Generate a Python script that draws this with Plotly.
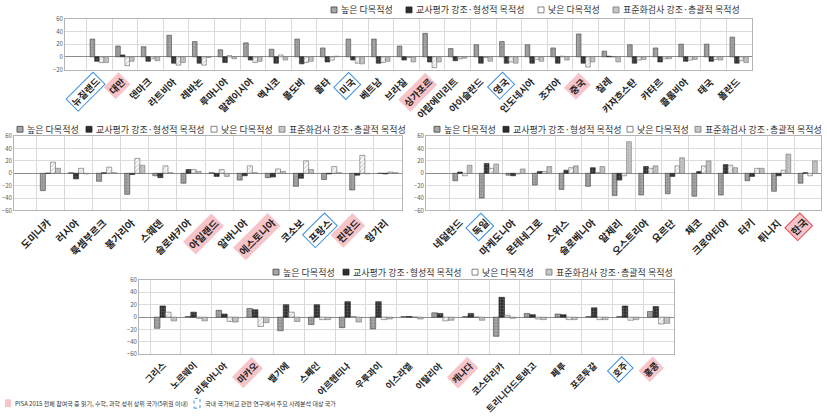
import plotly.graph_objects as go

W, H = 827, 418

SERIES = ['높은 다목적성', '교사평가 강조·형성적 목적성', '낮은 다목적성', '표준화검사 강조·총괄적 목적성']

# ---- Panel 1 (top) ----
top_countries = ['뉴질랜드', '대만', '덴마크', '라트비아', '레바논', '루마니아', '말레이시아', '멕시코', '몰도바', '몰타',
                 '미국', '베트남', '브라질', '싱가포르', '아랍에미리트', '아이슬란드', '영국', '인도네시아', '조지아', '중국',
                 '칠레', '카자흐스탄', '카타르', '콜롬비아', '태국', '폴란드']
top_high = [28, 17, 16, 34, 24, 11, 22, 12, 28, 14, 28, 28, 17, 37, 13, 19, 24, 19, 14, 36, 9, 19, 14, 20, 20, 31]
top_teacher = [-7, 3, -7, -10, -10, -9, -5, -10, -11, -8, -5, -10, -5, -8, -6, -10, -10, -10, -10, -10, 1, -10, -8, -7, -7, -10]
top_low = [-9, -14, -3, -13, -13, 2, -9, 3, -9, -5, -10, -9, -1, -17, -3, -1, -8, -4, 1, -16, 0, -5, -3, -5, -4, -6]
top_std = [-9, -7, -6, -9, -1, -3, -7, -5, -7, 1, -11, -7, -8, -8, -2, -7, -10, -7, -5, -8, -8, -4, -3, -4, -5, -9]

# ---- Panel 2 (middle left) ----
ml_countries = ['도미니카', '러시아', '룩셈부르크', '불가리아', '스웨덴', '슬로바키아', '아일랜드', '알바니아', '에스토니아',
                '코소보', '프랑스', '핀란드', '헝가리']
ml_high = [-28, 1, -13, -34, -4, -16, 1, -11, -7, -21, -10, -27, 0]
ml_teacher = [0, -9, 1, -2, -7, 6, -5, -4, -6, -8, -1, -3, -1]
ml_low = [18, 8, 10, 24, 12, 6, 6, 12, 7, 20, 11, 29, 2]
ml_std = [8, -1, 1, 13, 1, 3, -5, 1, 3, 6, 1, -1, 1]

# ---- Panel 3 (middle right) ----
mr_countries = ['네덜란드', '독일', '마케도니아', '몬테네그로', '스위스', '슬로베니아', '알제리', '오스트리아', '요르단',
                '체코', '크로아티아', '터키', '튀니지', '한국']
mr_high = [-12, -40, -3, -19, -26, -21, -36, -35, -33, -37, -35, -12, -29, -16]
mr_teacher = [2, 16, -4, 3, 5, 9, -11, 11, -5, 3, 14, -5, -4, 1]
mr_low = [-4, 8, -1, 3, 9, 1, -4, 8, 12, 12, 13, 8, 5, -4]
mr_std = [13, 15, 7, 11, 12, 11, 51, 12, 25, 20, 9, 8, 31, 20]

# ---- Panel 4 (bottom) ----
bt_countries = ['그리스', '노르웨이', '리투아니아', '마카오', '벨기에', '스페인', '아르헨티나', '우루과이', '이스라엘',
                '이탈리아', '캐나다', '코스타리카', '트리니다드토바고', '페루', '포르투갈', '호주', '홍콩']
bt_high = [-18, 1, 11, 14, -22, -12, -17, -19, 1, 7, 1, -31, 6, 5, 1, 1, 9]
bt_teacher = [18, 8, 5, 12, 20, 20, 25, 25, 1, 6, 6, 32, 4, 4, 15, 18, 17]
bt_low = [8, -2, -7, -15, 8, -4, 1, -4, 0, -6, 0, 3, -3, -4, -4, -5, -11]
bt_std = [-6, -6, -8, -9, -7, -4, -8, -3, -3, -5, -5, -2, -4, -4, -4, -4, -10]

pink_countries = ['대만', '싱가포르', '중국', '아일랜드', '에스토니아', '핀란드', '한국', '마카오', '캐나다', '홍콩']
blue_countries = ['뉴질랜드', '미국', '영국', '프랑스', '독일', '호주']

FOOT1 = 'PISA 2015 전체 참여국 중 읽기, 수학, 과학 성취 상위 국가(5위권 이내)'
FOOT2 = '국내 국가비교 관련 연구에서 주요 사례분석 대상 국가'

FONT = 'Noto Sans CJK KR'

styles = [
    dict(bg='#a6a6a6', fg='#6e6e6e', shape='.', line='#444'),
    dict(bg='#2e2e2e', fg='#8a8a8a', shape='.', line='#222'),
    dict(bg='#ffffff', fg='#9a9a9a', shape='/', line='#666'),
    dict(bg='#c6c6c6', fg='#a0a0a0', shape='.', line='#777'),
]

def px_x(a, b):
    return [a / W, b / W]

def px_y(top, bottom):
    return [1 - bottom / H, 1 - top / H]

panels = [
    dict(countries=top_countries, vals=[top_high, top_teacher, top_low, top_std], ax='', xd=px_x(65, 752), yd=px_y(14, 66),
         yr=[-20, 60], leg_x=[331, 406, 538, 613], leg_y=5, lab=9.5),
    dict(countries=ml_countries, vals=[ml_high, ml_teacher, ml_low, ml_std], ax='2', xd=px_x(14, 402), yd=px_y(134, 210),
         yr=[-60, 60], leg_x=[17, 86, 211, 279], leg_y=127, lab=10),
    dict(countries=mr_countries, vals=[mr_high, mr_teacher, mr_low, mr_std], ax='3', xd=px_x(426, 821), yd=px_y(134, 210),
         yr=[-60, 60], leg_x=[434, 503, 627, 695], leg_y=127, lab=10),
    dict(countries=bt_countries, vals=[bt_high, bt_teacher, bt_low, bt_std], ax='4', xd=px_x(139, 674), yd=px_y(281, 357),
         yr=[-60, 60], leg_x=[273, 343, 472, 546], leg_y=273, lab=9),
]

fig = go.Figure()
annotations = []
shapes = []
layout = dict(
    width=W, height=H, margin=dict(l=0, r=0, t=0, b=0),
    paper_bgcolor='white', plot_bgcolor='white',
    barmode='group', bargap=0.28, bargroupgap=0.0,
    font=dict(family=FONT, color='#333'),
    showlegend=False,
)

for p in panels:
    xa = 'x' + p['ax']
    ya = 'y' + p['ax']
    for i, name in enumerate(SERIES):
        s = styles[i]
        fig.add_trace(go.Bar(
            x=p['countries'], y=p['vals'][i], name=name, xaxis=xa, yaxis=ya,
            marker=dict(color=s['bg'], line=dict(color=s['line'], width=0.6),
                        pattern=dict(shape=s['shape'], fgcolor=s['fg'], bgcolor=s['bg'],
                                     size=3, solidity=0.35, fillmode='overlay')),
            hoverinfo='x+y+name',
        ))
        # compact legend entry
        ix = p['leg_x'][i]
        iy = p['leg_y']
        shapes.append(dict(type='rect', xref='paper', yref='paper',
                           x0=ix / W, x1=(ix + 6) / W, y0=1 - (iy + 3) / H, y1=1 - (iy - 3) / H,
                           fillcolor=s['bg'], line=dict(color=s['line'], width=0.8)))
        annotations.append(dict(x=(ix + 8) / W, y=1 - iy / H, xref='paper', yref='paper', text=name,
                                showarrow=False, xanchor='left', yanchor='middle',
                                font=dict(size=9, color='#333', family=FONT)))
    layout['xaxis' + p['ax']] = dict(
        domain=p['xd'], anchor=ya, type='category', tickson='boundaries',
        showgrid=True, gridcolor='#d9d9d9', gridwidth=1,
        showticklabels=False, ticks='',
        showline=True, linecolor='#b5b5b5', mirror=True,
    )
    layout['yaxis' + p['ax']] = dict(
        domain=p['yd'], anchor=xa, range=p['yr'], dtick=20,
        showgrid=True, gridcolor='#dcdcdc', gridwidth=1,
        zeroline=True, zerolinecolor='#8c8c8c', zerolinewidth=1,
        showline=True, linecolor='#b5b5b5', mirror=True,
        tickfont=dict(size=6, color='#555', family=FONT), ticks='', ticklen=2,
    )
    for c in p['countries']:
        ann = dict(
            x=c, xref=xa, y=0, yref=ya + ' domain', text='<b>' + c + '</b>',
            textangle=-45, xanchor='right', yanchor='top', showarrow=False,
            xshift=6, yshift=-2,
            font=dict(size=p['lab'], color='#222', family=FONT), borderpad=1,
        )
        if c in pink_countries:
            ann['bgcolor'] = '#f7c5c9'
            if c == '한국':
                ann['bordercolor'] = '#e0474f'
                ann['borderwidth'] = 1
        if c in blue_countries:
            ann['bordercolor'] = '#3b8ede'
            ann['borderwidth'] = 1
        annotations.append(ann)

# footer legend
annotations.append(dict(x=13 / W, y=1 - 407 / H, xref='paper', yref='paper', text=FOOT1, showarrow=False,
                        xanchor='left', yanchor='middle', font=dict(size=6, color='#333', family=FONT)))
annotations.append(dict(x=203 / W, y=1 - 407 / H, xref='paper', yref='paper', text=FOOT2, showarrow=False,
                        xanchor='left', yanchor='middle', font=dict(size=6, color='#333', family=FONT)))
shapes.append(dict(type='rect', xref='paper', yref='paper', x0=5 / W, x1=11 / W, y0=1 - 411 / H, y1=1 - 403 / H,
                   fillcolor='#f7c5c9', line=dict(width=0)))
shapes.append(dict(type='rect', xref='paper', yref='paper', x0=194 / W, x1=200 / W, y0=1 - 412 / H, y1=1 - 402 / H,
                   fillcolor='rgba(0,0,0,0)', line=dict(width=1, color='#3b8ede', dash='dot')))
layout['annotations'] = annotations
layout['shapes'] = shapes
fig.update_layout(**layout)

fig.write_html('out.html')
